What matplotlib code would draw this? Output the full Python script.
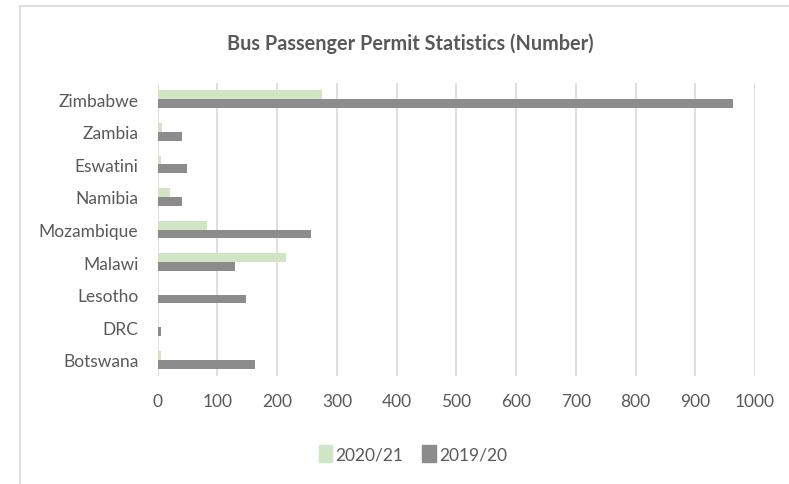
import matplotlib
matplotlib.use("Agg")
import matplotlib.pyplot as plt
from matplotlib.lines import Line2D
import numpy as np

countries = ["Botswana", "DRC", "Lesotho", "Malawi", "Mozambique",
             "Namibia", "Eswatini", "Zambia", "Zimbabwe"]
permits_2020_21 = [6, 0, 0, 214, 82, 21, 5, 8, 275]
permits_2019_20 = [163, 6, 147, 129, 256, 40, 49, 40, 964]
x_ticks = [0, 100, 200, 300, 400, 500, 600, 700, 800, 900, 1000]

plt.rcParams['font.family'] = ['Lato', 'DejaVu Sans']

fig = plt.figure(figsize=(7.89, 4.85), dpi=100)
W, H = 789, 485
ax = fig.add_axes([157.7 / W, 1 - 377 / H, (755 - 157.7) / W, (377 - 84) / H])

y = np.arange(len(countries))
h = 0.27
green = "#CFE5C3"
grey = "#8C8C8C"
ax.barh(y + h / 2, permits_2020_21, height=h, color=green, label="2020/21", zorder=3)
ax.barh(y - h / 2, permits_2019_20, height=h, color=grey, label="2019/20", zorder=3)

ax.set_xlim(0, 1000)
ax.set_ylim(-0.5, len(countries) - 0.5)
ax.set_xticks(x_ticks)
ax.set_xticklabels([str(t) for t in x_ticks])
ax.set_yticks(y)
ax.set_yticklabels(countries)
ax.tick_params(axis='both', length=0, labelsize=12.5, labelcolor="#595959")
ax.tick_params(axis='x', pad=12.5)
ax.tick_params(axis='y', pad=14)
ax.grid(axis='x', color="#D9D9D9", linewidth=1.2, zorder=0)
for s in ax.spines.values():
    s.set_visible(False)

fig.text(410 / W, 1 - 44 / H, "Bus Passenger Permit Statistics (Number)",
         ha='center', va='center', fontsize=14.3, fontweight='bold', color="#595959")

handles = [plt.Rectangle((0, 0), 1, 1, color=green), plt.Rectangle((0, 0), 1, 1, color=grey)]
fig.legend(handles, ["2020/21", "2019/20"], loc='center', bbox_to_anchor=(413 / W, 1 - 455 / H),
           ncol=2, frameon=False, fontsize=12.5, labelcolor="#595959",
           handlelength=0.75, handleheight=1.15, handletextpad=0.2, columnspacing=1.1)

# chart border (left and top)
fig.add_artist(Line2D([20 / W, 20 / W], [0, 1 - 7 / H], transform=fig.transFigure, color="#D9D9D9", lw=1.2))
fig.add_artist(Line2D([20 / W, 1], [1 - 7 / H, 1 - 7 / H], transform=fig.transFigure, color="#D9D9D9", lw=1.2))

fig.savefig("out.png", dpi=100)
